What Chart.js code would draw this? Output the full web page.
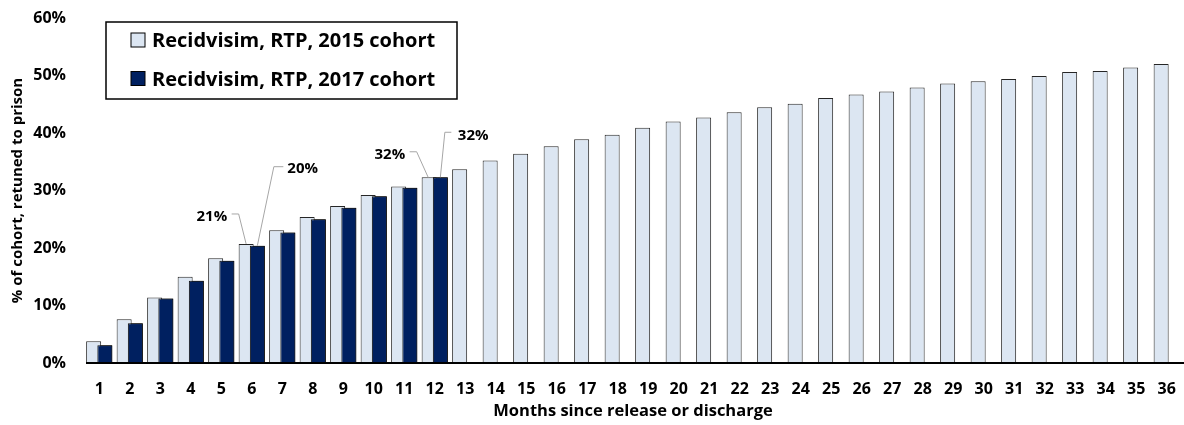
<!DOCTYPE html>
<html lang="en">
<head>
    <meta charset="UTF-8">
    <title>Recidivism by months since release</title>
    <style>
      body { margin: 0; background: #fff; }
      #wrap { width: 1184px; height: 425px; }
    </style>
</head>
<body>
    <div id="wrap">
        <canvas id="recidChart" width="1184" height="425"></canvas>
    </div>

    <script src="https://cdn.jsdelivr.net/npm/chart.js"></script>
    <script>
        // months 1..36
        const months = ['1','2','3','4','5','6','7','8','9','10','11','12','13','14','15','16','17','18',
                        '19','20','21','22','23','24','25','26','27','28','29','30','31','32','33','34','35','36'];

        // % returned to prison
        const cohort2015 = [3.8, 7.6, 11.4, 15.0, 18.2, 20.7, 23.1, 25.4, 27.3, 29.2, 30.7, 32.3,
                            33.7, 35.2, 36.4, 37.7, 38.9, 39.7, 40.9, 42.0, 42.7, 43.6, 44.5, 45.1,
                            46.1, 46.7, 47.2, 47.9, 48.6, 49.0, 49.4, 49.9, 50.6, 50.8, 51.4, 52.0];
        const cohort2017 = [3.1, 6.9, 11.2, 14.3, 17.8, 20.4, 22.7, 25.0, 27.0, 29.0, 30.5, 32.3];

        const yTicks = [0, 10, 20, 30, 40, 50, 60];

        const seriesNames = ['Recidvisim, RTP, 2015 cohort', 'Recidvisim, RTP, 2017 cohort'];
        const lightBlue = '#dce6f2';
        const navy = '#002060';
        const FONT = '"Open Sans"';

        // callouts: dataset, month index, line points relative to bar top, label anchor
        const callouts = [
            { ds: 0, i: 5,  pts: [[0, 0], [-7.5, -30], [-14.5, -30]], tx: -19, ty: -27.5, align: 'right' },
            { ds: 1, i: 5,  pts: [[0, 0], [16.5, -79], [26, -79]],    tx: 30,  ty: -76.5, align: 'left' },
            { ds: 0, i: 11, pts: [[-1, 0], [-12.5, -25.5], [-19.5, -25.5]], tx: -24, ty: -23, align: 'right' },
            { ds: 1, i: 11, pts: [[0, 0], [4.5, -45], [11, -45]],     tx: 17.5, ty: -42, align: 'left' }
        ];

        // dark bars overlap the light ones, so redraw them on top, then the base line
        const navyOnTop = {
            id: 'navyOnTop',
            afterDatasetsDraw(chart) {
                const ctx = chart.ctx;
                ctx.save();
                chart.getDatasetMeta(1).controller.draw();
                const y0 = chart.scales.y.getPixelForValue(0);
                ctx.strokeStyle = '#000';
                ctx.lineWidth = 2;
                ctx.beginPath();
                ctx.moveTo(chart.chartArea.left + 2, y0);
                ctx.lineTo(chart.width, y0);
                ctx.stroke();
                ctx.restore();
            }
        };

        const calloutPlugin = {
            id: 'callouts',
            afterDatasetsDraw(chart) {
                const ctx = chart.ctx;
                ctx.save();
                callouts.forEach(c => {
                    const bar = chart.getDatasetMeta(c.ds).data[c.i];
                    const val = chart.data.datasets[c.ds].data[c.i];
                    ctx.strokeStyle = '#a6a6a6';
                    ctx.lineWidth = 1;
                    ctx.beginPath();
                    c.pts.forEach((p, k) => {
                        const px = bar.x + p[0], py = bar.y + p[1];
                        if (k === 0) ctx.moveTo(px, py); else ctx.lineTo(px, py);
                    });
                    ctx.stroke();
                    ctx.fillStyle = '#000';
                    ctx.font = 'bold 15px ' + FONT;
                    ctx.textAlign = c.align;
                    ctx.textBaseline = 'middle';
                    ctx.fillText(Math.round(val) + '%', bar.x + c.tx, bar.y + c.ty);
                });
                ctx.restore();
            }
        };

        const boxLegend = {
            id: 'boxLegend',
            afterDraw(chart) {
                const ctx = chart.ctx;
                const bx = 106, by = 22, bw = 351, bh = 77;
                ctx.save();
                ctx.fillStyle = '#fff';
                ctx.fillRect(bx, by, bw, bh);
                ctx.strokeStyle = '#000';
                ctx.lineWidth = 1.5;
                ctx.strokeRect(bx, by, bw, bh);
                const rows = [40.5, 79];
                chart.data.datasets.forEach((ds, k) => {
                    const cy = rows[k];
                    ctx.fillStyle = ds.backgroundColor;
                    ctx.fillRect(131, cy - 7.5, 14, 14);
                    ctx.strokeStyle = '#000';
                    ctx.lineWidth = 1;
                    ctx.strokeRect(131, cy - 7.5, 14, 14);
                    ctx.fillStyle = '#000';
                    ctx.font = 'bold 20px ' + FONT;
                    ctx.textAlign = 'left';
                    ctx.textBaseline = 'middle';
                    ctx.fillText(ds.label, 152, cy + 1, 288);
                });
                ctx.restore();
            }
        };

        const ctx = document.getElementById('recidChart').getContext('2d');
        const recidChart = new Chart(ctx, {
            type: 'bar',
            data: {
                labels: months,
                datasets: [{
                    label: seriesNames[0],
                    data: cohort2015,
                    backgroundColor: lightBlue,
                    borderColor: '#262626',
                    borderWidth: 1
                }, {
                    label: seriesNames[1],
                    data: cohort2017,
                    backgroundColor: navy,
                    borderColor: '#111',
                    borderWidth: 1
                }]
            },
            options: {
                responsive: false,
                animation: false,
                events: [],
                categoryPercentage: 0.735,
                barPercentage: 1.34,
                layout: { padding: { top: 18, right: 2, left: 0, bottom: 0 } },
                plugins: {
                    legend: { display: false },
                    tooltip: { enabled: false }
                },
                scales: {
                    x: {
                        grid: { display: false },
                        border: { display: false },
                        ticks: {
                            color: '#000',
                            padding: 9,
                            maxRotation: 0,
                            autoSkip: false,
                            font: { family: FONT, weight: 'bold', size: 16 }
                        },
                        title: {
                            display: true,
                            text: 'Months since release or discharge',
                            color: '#000',
                            padding: { top: 0, bottom: 4 },
                            font: { family: FONT, weight: 'bold', size: 16.5 }
                        },
                        afterFit(scale) {
                            scale.height = 62;
                            scale.paddingLeft = 0;
                            scale.paddingRight = 0;
                        }
                    },
                    y: {
                        min: 0,
                        max: 60,
                        grid: { display: false },
                        border: { display: false },
                        afterBuildTicks(scale) { scale.ticks = yTicks.map(v => ({ value: v })); },
                        ticks: {
                            color: '#000',
                            padding: 10,
                            callback: v => v + '%',
                            font: { family: FONT, weight: 'bold', size: 16 }
                        },
                        title: {
                            display: true,
                            text: '% of cohort, retuned to prison',
                            color: '#000',
                            padding: { top: 9, bottom: 0 },
                            font: { family: FONT, weight: 'bold', size: 15 }
                        },
                        afterFit(scale) {
                            scale.width = 84;
                            scale.paddingTop = 0;
                            scale.paddingBottom = 0;
                        }
                    }
                }
            },
            plugins: [navyOnTop, calloutPlugin, boxLegend]
        });
    </script>
</body>
</html>
